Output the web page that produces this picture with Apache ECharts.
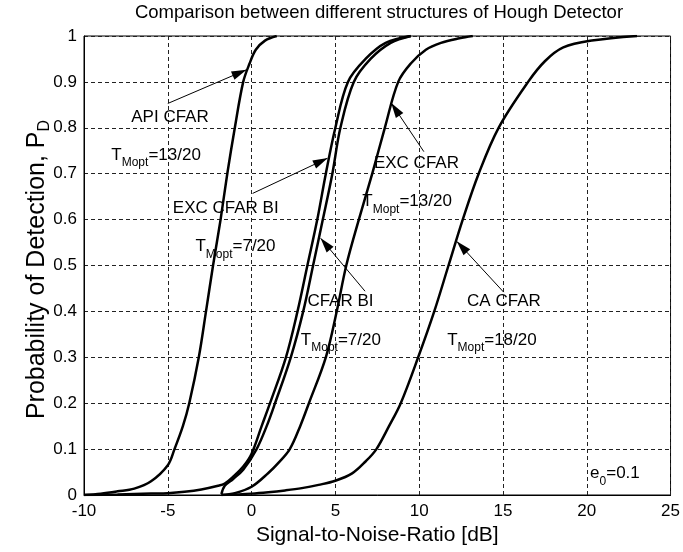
<!DOCTYPE html>
<html>
<head>
<meta charset="utf-8">
<script src="https://cdn.jsdelivr.net/npm/echarts@6/dist/echarts.min.js"></script>
<style>
html,body{margin:0;padding:0;background:#fff;}
#main{width:683px;height:552px;}
</style>
</head>
<body>
<div id="main"></div>
<script>
// [SNR dB, Pd]
var apiCfar = [[-10,0],[-9,0.003],[-8,0.008],[-7,0.014],[-6,0.03],[-5,0.065],[-4.6,0.1],[-4.1,0.15],[-3.72,0.2],[-3.15,0.3],[-2.72,0.4],[-2.3,0.5],[-1.85,0.6],[-1.45,0.7],[-1.0,0.8],[-0.5,0.9],[-0.12,0.94],[0.25,0.97],[0.8,0.99],[1.5,1.0]];
var excCfarBi = [[-10,0],[-8,0.001],[-6,0.003],[-5,0.004],[-4,0.007],[-3,0.012],[-2,0.02],[-1.6,0.025],[-1.1,0.04],[-0.5,0.062],[0,0.09],[0.6,0.15],[1.1,0.2],[2.05,0.3],[2.74,0.4],[3.33,0.5],[3.92,0.6],[4.43,0.7],[5.0,0.8],[5.75,0.9],[6.8,0.95],[8.0,0.985],[9.5,1.0]];
var cfarBi = [[-1.8,0.002],[-1.6,0.02],[-1.1,0.035],[-0.5,0.055],[0.3,0.1],[0.9,0.15],[1.4,0.2],[2.34,0.3],[3.08,0.4],[3.67,0.5],[4.25,0.6],[4.82,0.7],[5.3,0.8],[6.1,0.9],[7.1,0.95],[8.3,0.985],[9.5,1.0]];
var excCfar = [[-1.8,0],[-1,0.004],[0,0.018],[1,0.048],[1.6,0.07],[2.28,0.1],[2.9,0.15],[3.42,0.2],[4.43,0.3],[5.08,0.4],[5.65,0.5],[6.4,0.6],[7.2,0.7],[7.95,0.8],[8.75,0.9],[9.5,0.94],[10.4,0.97],[11.3,0.985],[12.4,0.995],[13.2,1.0]];
var caCfar = [[-1.8,0],[0,0.003],[1,0.006],[2,0.01],[3,0.015],[4,0.022],[5,0.031],[6,0.047],[6.8,0.073],[7.45,0.1],[8.2,0.15],[8.9,0.2],[9.94,0.3],[10.9,0.4],[11.75,0.5],[12.6,0.6],[13.55,0.7],[14.74,0.8],[16.5,0.9],[17.5,0.945],[18.6,0.975],[20.3,0.99],[23,1.0]];

var snrMin = -10, snrMax = 25, snrStep = 5;
var pdMin = 0, pdMax = 1, pdStep = 0.1;

// text notes and arrows (data coords)
var noteTexts = [
  '{m|API CFAR}',
  '{m|T}{s|Mopt}{m|=13/20}',
  '{m|EXC CFAR BI}',
  '{m|T}{s|Mopt}{m|=7/20}',
  '{m|CFAR BI}',
  '{m|T}{s|Mopt}{m|=7/20}',
  '{m|EXC CFAR}',
  '{m|T}{s|Mopt}{m|=13/20}',
  '{m|CA CFAR}',
  '{m|T}{s|Mopt}{m|=18/20}',
  '{m|e}{s|0}{m|=0.1}'
];
var notePos = [[-7.18,0.8235],[-8.37,0.741],[-4.70,0.6246],[-3.35,0.541],[3.33,0.421],[2.94,0.338],[7.30,0.7227],[6.61,0.639],[12.86,0.421],[11.67,0.338],[20.2,0.047]];
var arrowFrom = [[-5.0,0.853],[0.06,0.657],[6.77,0.444],[10.28,0.748],[15.04,0.442]];
var arrowTo = [[-0.33,0.926],[4.52,0.7335],[4.13,0.559],[8.35,0.853],[12.26,0.552]];

var font = 'Liberation Sans, Arial, sans-serif';
var chart = echarts.init(document.getElementById('main'));

function curve(name, data) {
  return {
    name: name,
    type: 'line',
    data: data,
    showSymbol: false,
    smooth: 0.35,
    lineStyle: {color: '#000', width: 2.5},
    itemStyle: {color: '#000'},
    z: 3
  };
}

var series = [
  curve('API CFAR', apiCfar),
  curve('EXC CFAR BI', excCfarBi),
  curve('CFAR BI', cfarBi),
  curve('EXC CFAR', excCfar),
  curve('CA CFAR', caCfar)
];

var noteData = notePos.map(function (p, i) {
  return {coord: p, value: 0, label: {formatter: noteTexts[i]}};
});
var arrowData = arrowFrom.map(function (p, i) {
  return [
    {coord: p, symbol: 'none'},
    {coord: arrowTo[i], symbol: 'path://M5,0 L10,16 L0,16 Z', symbolSize: [9, 15], symbolOffset: [0, 7]}
  ];
});

series[4].markPoint = {
  symbol: 'circle',
  symbolSize: 0,
  silent: true,
  animation: false,
  itemStyle: {color: 'rgba(0,0,0,0)'},
  label: {
    show: true,
    position: 'right',
    distance: 0,
    color: '#000',
    rich: {
      m: {fontFamily: font, fontSize: 17, color: '#000'},
      s: {fontFamily: font, fontSize: 12, color: '#000', padding: [16, 0, 0, 0]}
    }
  },
  data: noteData
};
series[4].markLine = {
  silent: true,
  animation: false,
  symbol: ['none', 'arrow'],
  label: {show: false},
  lineStyle: {color: '#000', width: 1, type: 'solid'},
  itemStyle: {color: '#000'},
  emphasis: {disabled: true},
  data: arrowData
};

chart.setOption({
  animation: false,
  backgroundColor: '#fff',
  title: {
    text: 'Comparison between different structures of Hough Detector',
    left: 379,
    textAlign: 'center',
    top: 3,
    padding: 0,
    textStyle: {fontFamily: font, fontSize: 18.5, fontWeight: 'normal', color: '#000'}
  },
  grid: {left: 84, right: 10, top: 36, bottom: 57, show: true, borderColor: '#000', borderWidth: 1, backgroundColor: '#fff'},
  xAxis: {
    type: 'value',
    min: snrMin, max: snrMax, interval: snrStep,
    name: 'Signal-to-Noise-Ratio [dB]',
    nameLocation: 'middle',
    nameGap: 28,
    nameTextStyle: {fontFamily: font, fontSize: 21, color: '#000'},
    axisLine: {show: true, onZero: false, lineStyle: {color: '#000', width: 1}},
    axisTick: {show: false},
    axisLabel: {fontFamily: font, fontSize: 17, color: '#000', margin: 8},
    splitLine: {show: true, lineStyle: {color: '#222', width: 1, type: [4, 3]}}
  },
  yAxis: {
    type: 'value',
    min: pdMin, max: pdMax, interval: pdStep,
    name: '{a|Probability of Detection, P}{s|D}',
    nameLocation: 'middle',
    nameGap: 31,
    nameMoveOverlap: false,
    nameTextStyle: {
      color: '#000',
      rich: {
        a: {fontFamily: font, fontSize: 25, color: '#000'},
        s: {fontFamily: font, fontSize: 16, color: '#000', padding: [15, 8, 0, 0]}
      }
    },
    axisLine: {show: true, onZero: false, lineStyle: {color: '#000', width: 1}},
    axisTick: {show: false},
    axisLabel: {fontFamily: font, fontSize: 17, color: '#000', margin: 7},
    splitLine: {show: true, lineStyle: {color: '#222', width: 1, type: [4, 3]}}
  },
  series: series
});
</script>
</body>
</html>
